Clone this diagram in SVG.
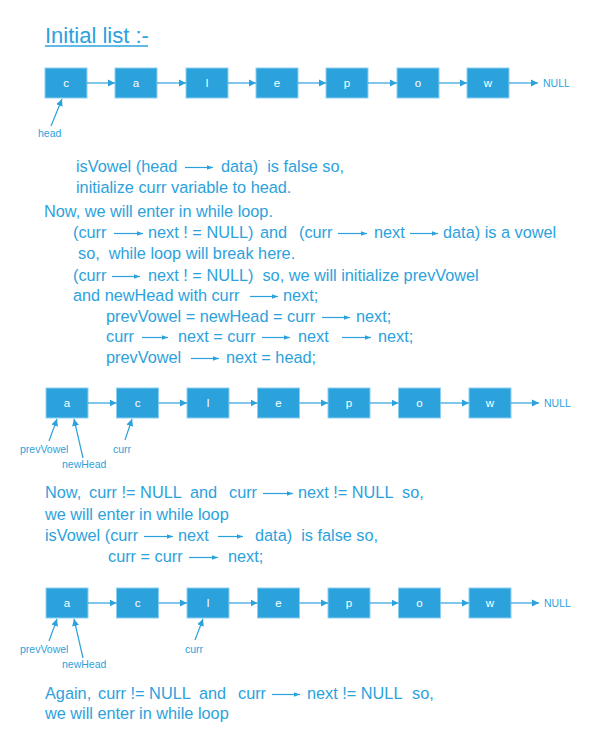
<svg xmlns="http://www.w3.org/2000/svg" width="595" height="750" viewBox="0 0 595 750">
<defs>
<marker id="ah" markerUnits="userSpaceOnUse" markerWidth="8" markerHeight="8" refX="7" refY="4" orient="auto"><path d="M0,0.5 L7,4 L0,7.5 Z" fill="#2ca2dd"/></marker>
<marker id="sh" markerUnits="userSpaceOnUse" markerWidth="7" markerHeight="6" refX="6" refY="3" orient="auto"><path d="M0,0.8 L6,3 L0,5.2 Z" fill="#2ca2dd"/></marker>
<style>
.box{fill:#2ca2dd;stroke:#8ccff0;stroke-width:1}
.bl{font-family:"Liberation Sans",Arial,sans-serif;font-size:11.5px;fill:#ffffff;text-anchor:middle}
.lbl{font-family:"Liberation Sans",Arial,sans-serif;font-size:10.5px;fill:#2ca2dd}
.t{font-family:"Liberation Sans",Arial,sans-serif;font-size:16.3px;fill:#2ca2dd;white-space:pre}
.c{stroke:#2ca2dd;stroke-width:1.2;fill:none;marker-end:url(#ah)}
.p{stroke:#2ca2dd;stroke-width:1.2;fill:none;marker-end:url(#sh)}
</style>
</defs>
<rect width="595" height="750" fill="#ffffff"/>

<!-- Title -->
<text x="45" y="43" font-family="'Liberation Sans',Arial,sans-serif" font-size="22" fill="#2ca2dd">Initial list :-</text>
<line x1="45" y1="46" x2="148" y2="46" stroke="#2ca2dd" stroke-width="1.3"/>

<!-- Row 1 nodes -->
<g id="r1-c"><rect class="box" x="45" y="68" width="42" height="30"/><text class="bl" x="66" y="87">c</text></g>
<g id="r1-a"><rect class="box" x="115" y="68" width="42" height="30"/><text class="bl" x="136" y="87">a</text></g>
<g id="r1-l"><rect class="box" x="186" y="68" width="42" height="30"/><text class="bl" x="207" y="87">l</text></g>
<g id="r1-e"><rect class="box" x="256" y="68" width="42" height="30"/><text class="bl" x="277" y="87">e</text></g>
<g id="r1-p"><rect class="box" x="326" y="68" width="42" height="30"/><text class="bl" x="347" y="87">p</text></g>
<g id="r1-o"><rect class="box" x="397" y="68" width="42" height="30"/><text class="bl" x="418" y="87">o</text></g>
<g id="r1-w"><rect class="box" x="467" y="68" width="42" height="30"/><text class="bl" x="488" y="87">w</text></g>
<g id="r1-null"><text class="lbl" x="543" y="87">NULL</text></g>
<g id="r1-head"><text class="lbl" x="38" y="137">head</text></g>

<!-- Row 2 nodes -->
<g id="r2-a"><rect class="box" x="46" y="388" width="42" height="30"/><text class="bl" x="67" y="407">a</text></g>
<g id="r2-c"><rect class="box" x="116.5" y="388" width="42" height="30"/><text class="bl" x="137.5" y="407">c</text></g>
<g id="r2-l"><rect class="box" x="187" y="388" width="42" height="30"/><text class="bl" x="208" y="407">l</text></g>
<g id="r2-e"><rect class="box" x="257.5" y="388" width="42" height="30"/><text class="bl" x="278.5" y="407">e</text></g>
<g id="r2-p"><rect class="box" x="328" y="388" width="42" height="30"/><text class="bl" x="349" y="407">p</text></g>
<g id="r2-o"><rect class="box" x="398.5" y="388" width="42" height="30"/><text class="bl" x="419.5" y="407">o</text></g>
<g id="r2-w"><rect class="box" x="469" y="388" width="42" height="30"/><text class="bl" x="490" y="407">w</text></g>
<g id="r2-null"><text class="lbl" x="544" y="407">NULL</text></g>
<g id="r2-prevVowel"><text class="lbl" x="20" y="453">prevVowel</text></g>
<g id="r2-newHead"><text class="lbl" x="62" y="468">newHead</text></g>
<g id="r2-curr"><text class="lbl" x="113" y="453">curr</text></g>

<!-- Row 3 nodes -->
<g id="r3-a"><rect class="box" x="46" y="588" width="42" height="30"/><text class="bl" x="67" y="607">a</text></g>
<g id="r3-c"><rect class="box" x="116.5" y="588" width="42" height="30"/><text class="bl" x="137.5" y="607">c</text></g>
<g id="r3-l"><rect class="box" x="187" y="588" width="42" height="30"/><text class="bl" x="208" y="607">l</text></g>
<g id="r3-e"><rect class="box" x="257.5" y="588" width="42" height="30"/><text class="bl" x="278.5" y="607">e</text></g>
<g id="r3-p"><rect class="box" x="328" y="588" width="42" height="30"/><text class="bl" x="349" y="607">p</text></g>
<g id="r3-o"><rect class="box" x="398.5" y="588" width="42" height="30"/><text class="bl" x="419.5" y="607">o</text></g>
<g id="r3-w"><rect class="box" x="469" y="588" width="42" height="30"/><text class="bl" x="490" y="607">w</text></g>
<g id="r3-null"><text class="lbl" x="544" y="607">NULL</text></g>
<g id="r3-prevVowel"><text class="lbl" x="20" y="653">prevVowel</text></g>
<g id="r3-newHead"><text class="lbl" x="62" y="668">newHead</text></g>
<g id="r3-curr"><text class="lbl" x="185" y="653">curr</text></g>

<!-- Connectors -->
<g id="connectors">
<line class="c" x1="87" y1="83" x2="115" y2="83"/>
<line class="c" x1="157" y1="83" x2="186" y2="83"/>
<line class="c" x1="228" y1="83" x2="256" y2="83"/>
<line class="c" x1="298" y1="83" x2="326" y2="83"/>
<line class="c" x1="368" y1="83" x2="397" y2="83"/>
<line class="c" x1="439" y1="83" x2="467" y2="83"/>
<line class="c" x1="509" y1="83" x2="538" y2="83"/>
<line class="c" x1="51" y1="126" x2="62" y2="99"/>

<line class="c" x1="88" y1="403" x2="116.5" y2="403"/>
<line class="c" x1="158.5" y1="403" x2="187" y2="403"/>
<line class="c" x1="229" y1="403" x2="257.5" y2="403"/>
<line class="c" x1="299.5" y1="403" x2="328" y2="403"/>
<line class="c" x1="370" y1="403" x2="398.5" y2="403"/>
<line class="c" x1="440.5" y1="403" x2="469" y2="403"/>
<line class="c" x1="511" y1="403" x2="539" y2="403"/>
<line class="c" x1="49" y1="441" x2="57" y2="419"/>
<line class="c" x1="83" y1="458" x2="74" y2="419"/>
<line class="c" x1="125" y1="440" x2="132" y2="419"/>

<line class="c" x1="88" y1="603" x2="116.5" y2="603"/>
<line class="c" x1="158.5" y1="603" x2="187" y2="603"/>
<line class="c" x1="229" y1="603" x2="257.5" y2="603"/>
<line class="c" x1="299.5" y1="603" x2="328" y2="603"/>
<line class="c" x1="370" y1="603" x2="398.5" y2="603"/>
<line class="c" x1="440.5" y1="603" x2="469" y2="603"/>
<line class="c" x1="511" y1="603" x2="539" y2="603"/>
<line class="c" x1="49" y1="641" x2="57" y2="619"/>
<line class="c" x1="83" y1="658" x2="74" y2="619"/>
<line class="c" x1="195" y1="640" x2="203" y2="619"/>
</g>

<!-- Text block 1 -->
<g id="text1">
<text class="t" y="172"><tspan x="76">isVowel (head</tspan><tspan x="221">data)  is false so,</tspan></text>
<text class="t" x="76" y="193">initialize curr variable to head.</text>
<text class="t" x="44" y="217">Now, we will enter in while loop.</text>
<text class="t" y="238"><tspan x="73">(curr</tspan><tspan x="148">next ! = NULL)</tspan><tspan x="260">and</tspan><tspan x="299">(curr</tspan><tspan x="374">next</tspan><tspan x="443">data) is a vowel</tspan></text>
<text class="t" x="78" y="259">so,  while loop will break here.</text>
<text class="t" y="281"><tspan x="73">(curr</tspan><tspan x="148">next ! = NULL)  so, we will initialize prevVowel</tspan></text>
<text class="t" y="301"><tspan x="73">and newHead with curr</tspan><tspan x="283">next;</tspan></text>
<text class="t" y="322"><tspan x="106">prevVowel = newHead = curr</tspan><tspan x="356">next;</tspan></text>
<text class="t" y="342"><tspan x="106">curr</tspan><tspan x="178">next = curr</tspan><tspan x="298">next</tspan><tspan x="378">next;</tspan></text>
<text class="t" y="363"><tspan x="106">prevVowel</tspan><tspan x="226">next = head;</tspan></text>
<line class="p" x1="185" y1="167.5" x2="213" y2="167.5"/>
<line class="p" x1="114" y1="233.5" x2="143" y2="233.5"/>
<line class="p" x1="338" y1="233.5" x2="367" y2="233.5"/>
<line class="p" x1="410" y1="233.5" x2="438" y2="233.5"/>
<line class="p" x1="112" y1="276.5" x2="140" y2="276.5"/>
<line class="p" x1="250" y1="296.5" x2="278" y2="296.5"/>
<line class="p" x1="322" y1="317.5" x2="350" y2="317.5"/>
<line class="p" x1="142" y1="337.5" x2="168" y2="337.5"/>
<line class="p" x1="262" y1="337.5" x2="290" y2="337.5"/>
<line class="p" x1="342" y1="337.5" x2="371" y2="337.5"/>
<line class="p" x1="191" y1="358.5" x2="219" y2="358.5"/>
</g>

<!-- Text block 2 -->
<g id="text2">
<text class="t" y="498"><tspan x="45">Now,</tspan><tspan x="89">curr != NULL</tspan><tspan x="190">and</tspan><tspan x="229">curr</tspan><tspan x="298">next != NULL</tspan><tspan x="402">so,</tspan></text>
<text class="t" x="45" y="520">we will enter in while loop</text>
<text class="t" y="541"><tspan x="45">isVowel (curr</tspan><tspan x="178">next</tspan><tspan x="255">data)  is false so,</tspan></text>
<text class="t" y="562"><tspan x="108">curr = curr</tspan><tspan x="228">next;</tspan></text>
<line class="p" x1="263" y1="493.5" x2="293" y2="493.5"/>
<line class="p" x1="144" y1="536.5" x2="173" y2="536.5"/>
<line class="p" x1="218" y1="536.5" x2="243" y2="536.5"/>
<line class="p" x1="189" y1="557.5" x2="218" y2="557.5"/>
</g>

<!-- Text block 3 -->
<g id="text3">
<text class="t" y="699"><tspan x="45">Again,</tspan><tspan x="98">curr != NULL</tspan><tspan x="199">and</tspan><tspan x="238">curr</tspan><tspan x="307">next != NULL</tspan><tspan x="412">so,</tspan></text>
<text class="t" x="45" y="719">we will enter in while loop</text>
<line class="p" x1="272" y1="694.5" x2="300" y2="694.5"/>
</g>
</svg>
